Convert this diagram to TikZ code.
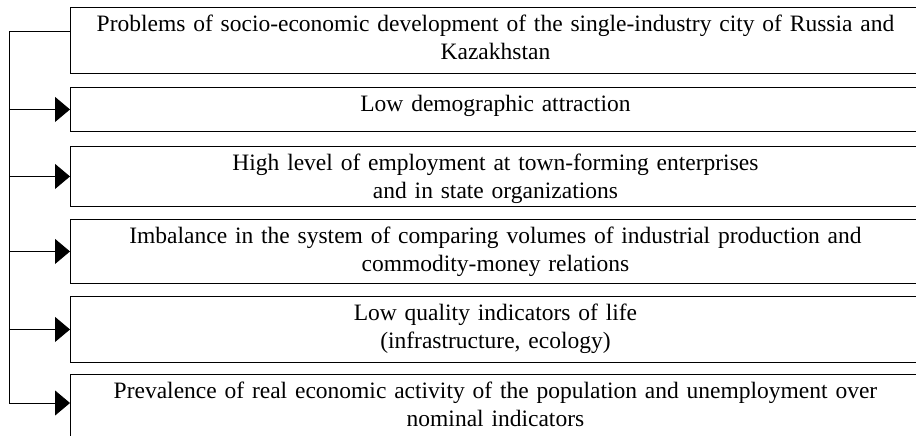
\documentclass[tikz,border=0pt]{standalone}
\usepackage{fontspec}
\setmainfont{Liberation Serif}
\usetikzlibrary{arrows.meta}

\begin{document}
\begin{tikzpicture}[x=1pt,y=-1pt,line width=.9pt]

      \useasboundingbox (0,0) rectangle (916,436);
      \clip (0,0) rectangle (916,436);

      \begin{scope}[every node/.style={draw,anchor=north west,inner xsep=8pt,inner ysep=0pt,
          text width=834pt,align=center,text height=24pt,font=\fontsize{23.5}{28}\selectfont}]
        \node[text depth=42pt] (1) at (70,7)   {Problems of socio-economic development of the single-industry city of Russia and\\ Kazakhstan};
        \node[text depth=20pt] (2) at (70,87)  {Low demographic attraction};
        \node[text depth=36pt] (3) at (70,146) {High level of employment at town-forming enterprises\\ and in state organizations};
        \node[text depth=40pt] (4) at (70,219) {Imbalance in the system of comparing volumes of industrial production and\\ commodity-money relations};
        \node[text depth=42pt] (5) at (70,296) {Low quality indicators of life\\ (infrastructure, ecology)};
        \node[text depth=46pt] (6) at (70,374) {Prevalence of real economic activity of the population and unemployment over\\ nominal indicators};
      \end{scope}

      \coordinate (a) at (9,31);
      \coordinate (b) at (9,403);
      \draw (a -| 1.west) -- (a) -- (b);

      \begin{scope}[every edge/.style={draw,-{Triangle[length=15pt,width=25pt]}}]
        \path (a |- 2.west) edge (2.west);
        \path (a |- 3.west) edge (3.west);
        \path (a |- 4.west) edge (4.west);
        \path (a |- 5.west) edge (5.west);
        \path (b)           edge (b -| 6.west);
      \end{scope}

    \end{tikzpicture}
\end{document}
